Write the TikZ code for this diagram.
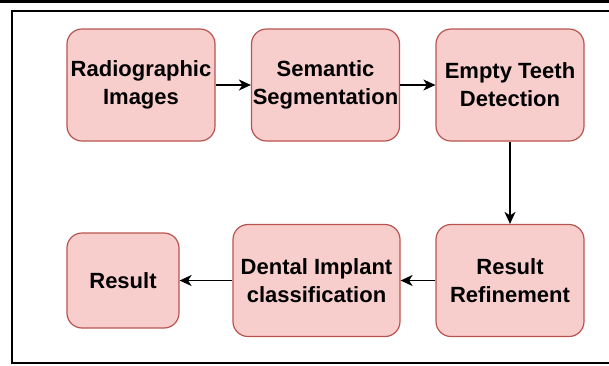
\documentclass[tikz,border=0pt]{standalone}
\usepackage{fontspec}
\setmainfont{Liberation Sans}
\usetikzlibrary{arrows.meta}
\definecolor{boxfill}{HTML}{F8CECC}
\definecolor{boxline}{HTML}{B85450}
\tikzset{
  stepbox/.style={draw=boxline, fill=boxfill, line width=1.2bp, rounded corners=15bp,
    minimum width=148bp, minimum height=112bp, inner sep=0pt, align=center,
    font=\fontsize{22bp}{28bp}\selectfont\bfseries},
  flow/.style={draw=black, line width=1.6bp, -{Stealth[length=12bp,width=11bp,inset=3.5bp]}},
  frame/.style={draw=black, line width=2bp}
}
\begin{document}
\begin{tikzpicture}[x=1bp,y=-1bp]
\useasboundingbox (0,0) rectangle (609,365);
\fill[black] (0,0) rectangle (609,3);
\draw[frame] (609,11) -- (12,11) -- (12,363) -- (609,363);
\node[stepbox] (rad) at (141,85) {Radiographic\\Images};
\node[stepbox] (sem) at (325.5,85) {Semantic\\Segmentation};
\node[stepbox] (emp) at (510,85) {Empty Teeth\\Detection};
\node[stepbox] (ref) at (510,280.5) {Result\\Refinement};
\node[stepbox, minimum width=167bp] (den) at (316.5,280.5) {Dental Implant\\classification};
\node[stepbox, minimum width=112bp, minimum height=95bp] (res) at (123,280.5) {Result};
\draw[flow] (rad) -- (sem);
\draw[flow] (sem) -- (emp);
\draw[flow] (emp) -- (ref);
\draw[flow] (ref) -- (den);
\draw[flow] (den) -- (res);
\end{tikzpicture}
\end{document}
